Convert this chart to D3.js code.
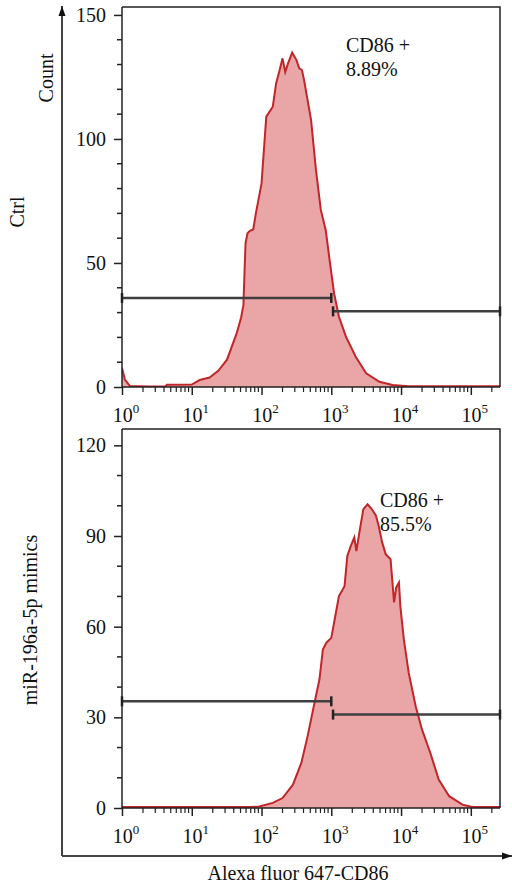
<!DOCTYPE html>
<html>
<head>
<meta charset="utf-8">
<script src="https://cdn.jsdelivr.net/npm/d3@7"></script>
<style>
  body { margin: 0; background: #fff; }
  text { font-family: "Liberation Serif", "DejaVu Serif", serif; fill: #111; }
</style>
</head>
<body>
<svg id="chart"></svg>
<script>
// histogram outline of the control sample (fluorescence, count)
let ctrlFluor = [1, 1.1, 1.3, 2.5, 4.2, 4.4, 10, 13, 18, 24, 32, 44, 51, 55, 59, 63, 68, 76, 83, 100, 117, 145, 162, 182, 200, 219, 240, 275, 316, 347, 380, 407, 513, 603, 708, 832, 933, 1096, 1288, 1622, 2239, 3162, 4898, 7586, 12600, 262144];
let ctrlCount = [7.7, 3, 0.4, 0.2, 0.2, 0.9, 1, 2.8, 3.8, 6.5, 11, 21.6, 28, 33, 58, 62, 63, 63.5, 70, 82, 109, 113, 122.5, 127.8, 132.5, 127, 130.5, 134.8, 131.9, 128.5, 127.8, 123.8, 107.7, 87.5, 71.4, 63.3, 52.5, 37.8, 28.3, 20.3, 12.2, 5.5, 2.1, 0.8, 0.3, 0.3];

// histogram outline of the miR-196a-5p mimics sample
let mimicFluor = [1, 68, 93, 145, 200, 282, 372, 457, 575, 676, 759, 851, 1000, 1096, 1288, 1549, 1698, 1905, 2138, 2291, 2570, 2884, 3311, 3802, 4365, 4786, 5370, 6026, 7079, 7943, 8511, 9333, 9772, 10965, 12882, 16218, 19953, 26303, 34674, 48978, 75858, 104713, 262144];
let mimicCount = [0.3, 0.3, 0.5, 1.7, 3.3, 7.7, 14.9, 23.7, 34.8, 42.5, 52.5, 54.7, 56.3, 61.3, 70.1, 73.4, 83.4, 86.7, 89.5, 85, 92.2, 98.9, 100.5, 98.9, 96.7, 93.3, 87.8, 84, 82.3, 68, 72.9, 74.6, 66.8, 55.8, 44.7, 33.7, 26, 18.2, 9.4, 3.9, 1.1, 0.3, 0.3];

// gates: [start, end, count level]
let ctrlGates = [[1, 1000, 35.9], [1060, 262144, 30.5]];
let mimicGates = [[1, 1000, 35.3], [1060, 262144, 30.9]];

let ctrlLabel = ["CD86 +", "8.89%"];
let mimicLabel = ["CD86 +", "85.5%"];

let ctrlTicks = [0, 50, 100, 150];
let mimicTicks = [0, 30, 60, 90, 120];
let decades = [0, 1, 2, 3, 4, 5];

let width = 512;
let height = 890;
let left = 122;
let right = 500;

let svg = d3.select("#chart").attr("width", width).attr("height", height);

let xScale = d3.scaleLog().domain([1, 262144]).range([left, right]);

let panels = [
  { fluor: ctrlFluor, count: ctrlCount, gates: ctrlGates, label: ctrlLabel, ticks: ctrlTicks,
    yMax: 153.2, top: 7, bottom: 387, labelX: 346, labelY: 52, name: "Ctrl", nameX: 24, nameY: 212 },
  { fluor: mimicFluor, count: mimicCount, gates: mimicGates, label: mimicLabel, ticks: mimicTicks,
    yMax: 125.4, top: 429, bottom: 808, labelX: 380, labelY: 507, name: "miR-196a-5p mimics", nameX: 37, nameY: 620 }
];

// minor ticks on the log axis
let minorTicks = [];
for (let d = 0; d <= 5; d++) {
  for (let m = 2; m <= 9; m++) {
    let v = m * Math.pow(10, d);
    if (v <= 262144) minorTicks.push(v);
  }
}

panels.forEach((p, i) => {
  let yScale = d3.scaleLinear().domain([0, p.yMax]).range([p.bottom, p.top]);
  let g = svg.append("g");

  let clipId = "clip" + i;
  svg.append("clipPath").attr("id", clipId)
     .append("rect").attr("x", left).attr("y", p.top).attr("width", right - left).attr("height", p.bottom - p.top);

  let pts = p.fluor.map((f, k) => [f, p.count[k]]);
  let area = d3.area().x(d => xScale(d[0])).y0(yScale(0)).y1(d => yScale(d[1]));
  let line = d3.line().x(d => xScale(d[0])).y(d => yScale(d[1]));

  g.append("path").datum(pts)
   .attr("clip-path", `url(#${clipId})`)
   .attr("d", area).attr("fill", "#eaa5a6");
  g.append("path").datum(pts)
   .attr("clip-path", `url(#${clipId})`)
   .attr("d", line).attr("fill", "none").attr("stroke", "#c0262a").attr("stroke-width", 2);

  // frame on top and right
  g.append("path")
   .attr("d", `M${left},${p.top}H${right}V${p.bottom}`)
   .attr("fill", "none").attr("stroke", "#222").attr("stroke-width", 1.5);

  // gates
  p.gates.forEach(gt => {
    let y = yScale(gt[2]);
    let x0 = xScale(gt[0]), x1 = xScale(gt[1]);
    g.append("line").attr("x1", x0).attr("x2", x1).attr("y1", y).attr("y2", y)
     .attr("stroke", "#3f3f3f").attr("stroke-width", 2.5);
    [x0, x1].forEach(x => {
      g.append("line").attr("x1", x).attr("x2", x).attr("y1", y - 5).attr("y2", y + 5)
       .attr("stroke", "#222").attr("stroke-width", 2.5);
    });
  });

  // y axis
  let yAxis = d3.axisLeft(yScale).tickValues(p.ticks).tickSize(8).tickPadding(8);
  let ya = g.append("g").attr("transform", `translate(${left},0)`).call(yAxis);
  ya.select(".domain").attr("d", `M0,${p.bottom}V${p.top}`).attr("stroke", "#222").attr("stroke-width", 1.5);
  ya.selectAll(".tick line").attr("stroke", "#222").attr("stroke-width", 1.5);
  ya.selectAll("text").style("font-family", "Liberation Serif").style("font-size", "20px").attr("fill", "#111");
  let minorY = d3.range(10, p.yMax, 10).filter(v => p.ticks.indexOf(v) < 0);
  ya.selectAll(".minor").data(minorY).enter().append("line")
    .attr("x1", -5).attr("x2", 0).attr("y1", d => yScale(d)).attr("y2", d => yScale(d))
    .attr("stroke", "#222").attr("stroke-width", 1.5);

  // x axis
  let xAxis = d3.axisBottom(xScale).tickValues(decades.map(d => Math.pow(10, d))).tickSize(8).tickFormat("");
  let xa = g.append("g").attr("transform", `translate(0,${p.bottom})`).call(xAxis);
  xa.select(".domain").attr("d", `M${left},0H${right}`).attr("stroke", "#222").attr("stroke-width", 1.5);
  xa.selectAll(".tick line").attr("stroke", "#222").attr("stroke-width", 1.5);
  xa.selectAll(".minor").data(minorTicks).enter().append("line")
    .attr("x1", d => xScale(d)).attr("x2", d => xScale(d)).attr("y1", 0).attr("y2", 5)
    .attr("stroke", "#222").attr("stroke-width", 1.2);
  let lbl = xa.selectAll(".lbl").data(decades).enter().append("text")
    .attr("x", d => xScale(Math.pow(10, d)) + 4).attr("y", 35)
    .attr("text-anchor", "middle").style("font-size", "20px");
  lbl.append("tspan").text("10");
  lbl.append("tspan").attr("dy", -9).style("font-size", "13px").text(d => d);

  // annotation
  let ann = g.append("text").attr("x", p.labelX).attr("y", p.labelY).style("font-size", "20px");
  ann.append("tspan").attr("x", p.labelX).text(p.label[0]);
  ann.append("tspan").attr("x", p.labelX).attr("dy", 24).text(p.label[1]);

  // sample name
  g.append("text")
   .attr("transform", `translate(${p.nameX},${p.nameY}) rotate(-90)`)
   .attr("text-anchor", "middle").style("font-size", "20px").text(p.name);
});

// outer axes with arrows
svg.append("defs").append("marker")
   .attr("id", "arrow").attr("viewBox", "0 0 10 10").attr("refX", 10).attr("refY", 5)
   .attr("markerWidth", 10).attr("markerHeight", 10).attr("markerUnits", "userSpaceOnUse")
   .attr("orient", "auto")
   .append("path").attr("d", "M0,1.5L10,5L0,8.5Z").attr("fill", "#111");

svg.append("line").attr("x1", 62).attr("y1", 856).attr("x2", 62).attr("y2", 6)
   .attr("stroke", "#444").attr("stroke-width", 2).attr("marker-end", "url(#arrow)");
svg.append("line").attr("x1", 62).attr("y1", 856).attr("x2", 512).attr("y2", 856)
   .attr("stroke", "#444").attr("stroke-width", 2).attr("marker-end", "url(#arrow)");

svg.append("text")
   .attr("transform", "translate(53,78) rotate(-90)")
   .attr("text-anchor", "middle").style("font-size", "20px").text("Count");

svg.append("text")
   .attr("x", 298).attr("y", 880)
   .attr("text-anchor", "middle").style("font-size", "20px").text("Alexa fluor 647-CD86");
</script>
</body>
</html>
